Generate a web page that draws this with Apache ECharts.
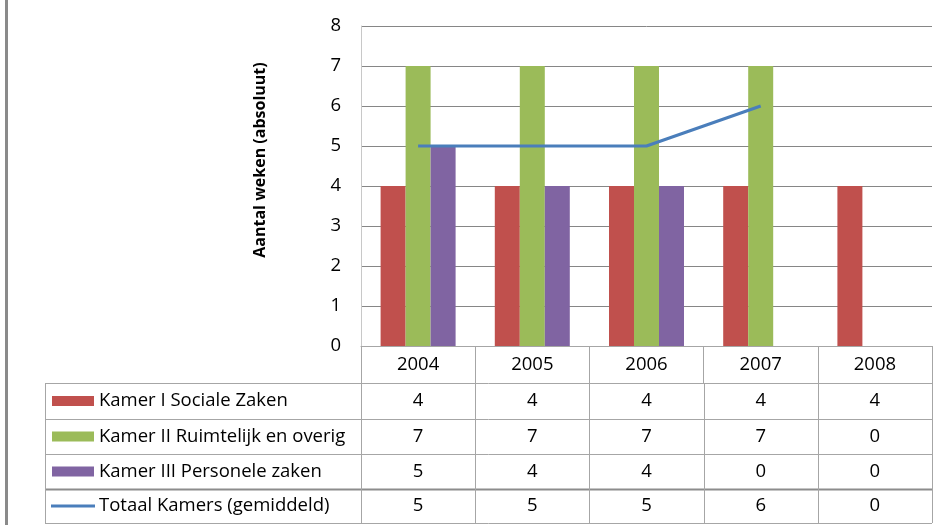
<!DOCTYPE html>
<html>
<head>
<meta charset="utf-8">
<script src="https://cdn.jsdelivr.net/npm/echarts@6/dist/echarts.min.js"></script>
<style>
  html, body { margin: 0; padding: 0; background: #fff; }
  #chart { width: 943px; height: 525px; }
</style>
</head>
<body>
<div id="chart"></div>
<script>
const years = ['2004', '2005', '2006', '2007', '2008']
const seriesNames = [
  'Kamer I Sociale Zaken',
  'Kamer II Ruimtelijk en overig',
  'Kamer III Personele zaken',
  'Totaal Kamers (gemiddeld)'
]
const kamerI = [4, 4, 4, 4, 4]
const kamerII = [7, 7, 7, 7, 0]
const kamerIII = [5, 4, 4, 0, 0]
const totaal = [5, 5, 5, 6, 0]
// the line stops at 2007 in the chart, 2008 is not plotted
const totaalLijn = [5, 5, 5, 6, null]
const yMin = 0
const yMax = 8
const yStep = 1

const colors = ['#c0504d', '#9bbb59', '#8064a2', '#4a7ebb']
const FONT = '"Open Sans", "Liberation Sans", sans-serif'
const FS = 18.5

// layout
const W = 943
const GRID_LEFT = 361
const GRID_RIGHT = 932
const GRID_TOP = 26
const GRID_BOTTOM = 346
const TABLE_LEFT = 45
const rowLines = [383, 419, 454, 489, 523]

const chart = echarts.init(document.getElementById('chart'))

// data table under the chart
function buildTable() {
  const els = []
  const band = (GRID_RIGHT - GRID_LEFT) / years.length
  const gray = '#a6a6a6'
  const rows = [kamerI, kamerII, kamerIII, totaal]

  // horizontal lines
  rowLines.forEach((y, i) => {
    els.push({
      type: 'line',
      shape: { x1: TABLE_LEFT, y1: y + 0.5, x2: GRID_RIGHT, y2: y + 0.5 },
      style: { stroke: i === 3 ? '#8c8c8c' : gray, lineWidth: i === 3 ? 2 : 1 }
    })
  })
  // vertical lines
  const xs = [TABLE_LEFT]
  for (let i = 0; i <= years.length; i++) xs.push(Math.round(GRID_LEFT + i * band))
  xs.forEach((x) => {
    els.push({
      type: 'line',
      shape: { x1: x + 0.5, y1: rowLines[0], x2: x + 0.5, y2: rowLines[rowLines.length - 1] },
      style: { stroke: gray, lineWidth: 1 }
    })
  })

  rows.forEach((vals, r) => {
    const yc = (rowLines[r] + rowLines[r + 1]) / 2
    // legend key
    if (r < 3) {
      els.push({
        type: 'rect',
        shape: { x: 52, y: yc - 5, width: 42, height: 10 },
        style: { fill: colors[r] }
      })
    } else {
      els.push({
        type: 'line',
        shape: { x1: 51, y1: yc, x2: 95, y2: yc },
        style: { stroke: colors[3], lineWidth: 3 }
      })
    }
    els.push({
      type: 'text',
      x: 99,
      y: yc,
      style: {
        text: seriesNames[r],
        font: FS + 'px ' + FONT,
        fill: '#000',
        align: 'left',
        verticalAlign: 'middle'
      }
    })
    vals.forEach((v, c) => {
      els.push({
        type: 'text',
        x: GRID_LEFT + (c + 0.5) * band,
        y: yc,
        style: {
          text: String(v),
          font: FS + 'px ' + FONT,
          fill: '#000',
          align: 'center',
          verticalAlign: 'middle'
        }
      })
    })
  })

  // y axis title
  els.push({
    type: 'text',
    x: 260,
    y: 160,
    rotation: Math.PI / 2,
    style: {
      text: 'Aantal weken (absoluut)',
      font: 'bold 16px ' + FONT,
      fill: '#000',
      align: 'center',
      verticalAlign: 'middle'
    }
  })

  // grey frame edge on the left
  els.push({
    type: 'rect',
    shape: { x: 5, y: 0, width: 3, height: 525 },
    style: { fill: '#8a8a8a' }
  })
  return els
}

const option = {
  animation: false,
  backgroundColor: '#fff',
  grid: {
    left: GRID_LEFT,
    right: W - GRID_RIGHT,
    top: GRID_TOP,
    bottom: 525 - GRID_BOTTOM
  },
  xAxis: {
    type: 'category',
    data: years,
    axisLine: { lineStyle: { color: '#a6a6a6' } },
    axisTick: { show: true, length: 37, lineStyle: { color: '#a6a6a6' } },
    axisLabel: { color: '#000', fontSize: FS, fontFamily: FONT, margin: 9 },
    splitLine: { show: false }
  },
  yAxis: {
    type: 'value',
    min: yMin,
    max: yMax,
    interval: yStep,
    axisLine: { show: true, lineStyle: { color: '#c8c8c8' } },
    axisTick: { show: false },
    axisLabel: { color: '#000', fontSize: FS, fontFamily: FONT, margin: 20 },
    splitLine: { lineStyle: { color: '#868686', width: 1 } }
  },
  series: [
    { name: seriesNames[0], type: 'bar', data: kamerI, barWidth: 25, barGap: '0%', itemStyle: { color: colors[0] } },
    { name: seriesNames[1], type: 'bar', data: kamerII, barWidth: 25, barGap: '0%', itemStyle: { color: colors[1] } },
    { name: seriesNames[2], type: 'bar', data: kamerIII, barWidth: 25, barGap: '0%', itemStyle: { color: colors[2] } },
    {
      name: seriesNames[3],
      type: 'line',
      data: totaalLijn,
      showSymbol: false,
      symbol: 'none',
      z: 5,
      lineStyle: { color: colors[3], width: 3 },
      itemStyle: { color: colors[3] }
    }
  ],
  graphic: buildTable()
}

chart.setOption(option)
</script>
</body>
</html>
